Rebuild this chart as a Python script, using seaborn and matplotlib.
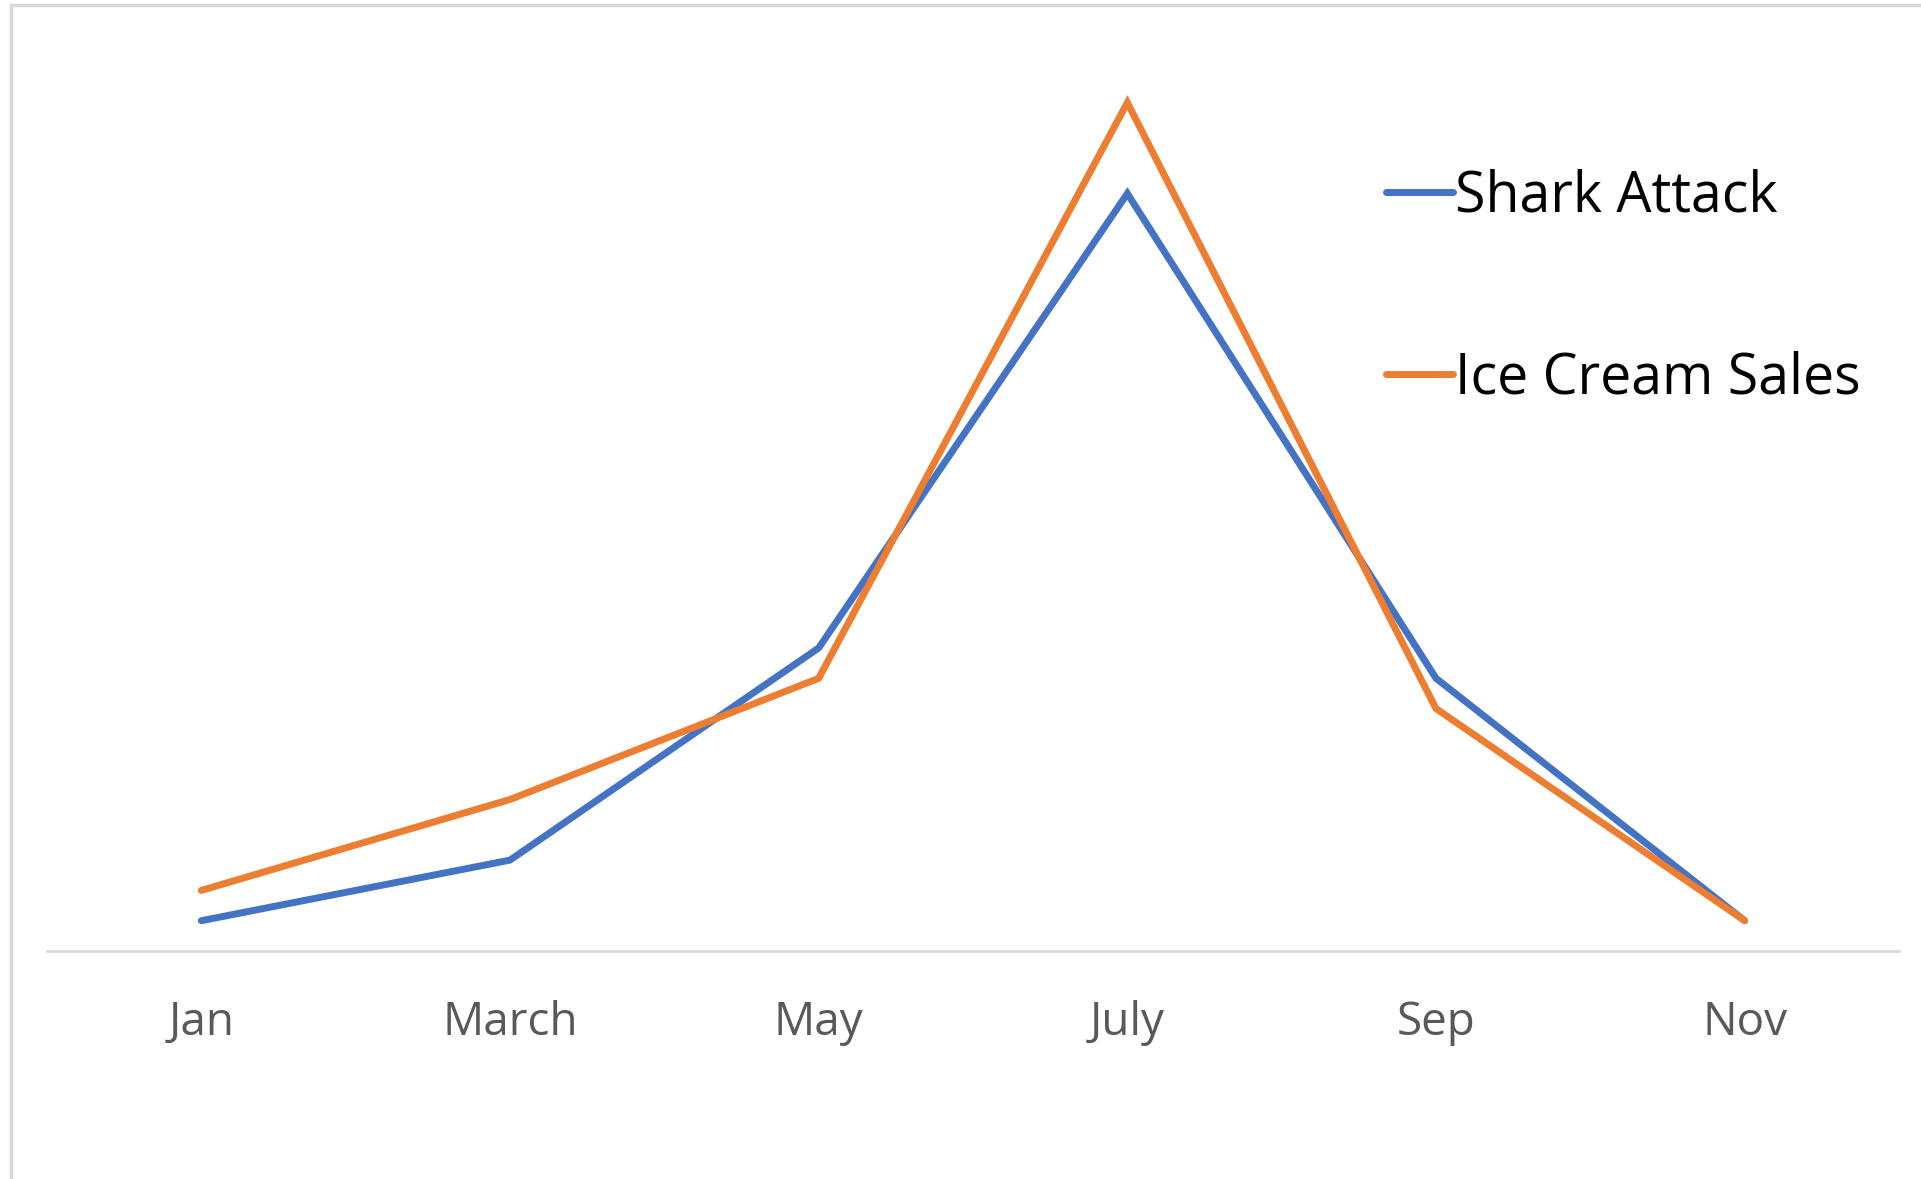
import pandas as pd
import matplotlib
matplotlib.use("Agg")
import matplotlib.pyplot as plt
import seaborn as sns
from matplotlib.patches import Rectangle

# chart data
months = ["Jan", "March", "May", "July", "Sep", "Nov"]
shark_attack = [1, 3, 10, 25, 9, 1]
ice_cream_sales = [2, 5, 9, 28, 8, 1]

sns.set_style("white")
plt.rcParams["font.family"] = ["Open Sans", "DejaVu Sans"]

df = pd.DataFrame({
    "month": months * 2,
    "pos": list(range(len(months))) * 2,
    "value": shark_attack + ice_cream_sales,
    "series": ["Shark Attack"] * len(months) + ["Ice Cream Sales"] * len(months),
})

W, H = 1921, 1179
fig = plt.figure(figsize=(W / 100, H / 100), dpi=100)
ax = fig.add_axes([47 / W, (H - 951) / H, (1899 - 47) / W, (951 - 42) / H])

sns.lineplot(data=df, x="pos", y="value", hue="series", sort=False,
             palette={"Shark Attack": "#4472C4", "Ice Cream Sales": "#ED7D31"},
             ax=ax)
for line in ax.lines:
    line.set_linewidth(5)
    line.set_solid_capstyle("round")
    line.set_solid_joinstyle("miter")

ax.set_xlim(-0.5, 5.5)
ax.set_ylim(0, 30)
ax.set_xticks(range(len(months)))
ax.set_xticklabels(months, fontsize=33, color="#595959")
ax.set_yticks([])
ax.set_xlabel("")
ax.set_ylabel("")
ax.tick_params(axis="x", length=0, pad=35)
for s in ["top", "left", "right"]:
    ax.spines[s].set_visible(False)
ax.spines["bottom"].set_color("#d9d9d9")
ax.spines["bottom"].set_linewidth(2)

leg = ax.legend(loc="upper left", bbox_to_anchor=(1386 / W, (H - 168) / H),
                bbox_transform=fig.transFigure, frameon=False, fontsize=40,
                handlelength=1.2, handletextpad=0.05, labelspacing=2.26,
                borderpad=0, borderaxespad=0, title=None)
for h in leg.get_lines():
    h.set_linewidth(5)
    h.set_solid_capstyle("round")
for t in leg.get_texts():
    t.set_color("black")

# light grey frame around the chart area
fig.patches.append(Rectangle((11 / W, -0.1), 1.2, (H - 5) / H + 0.1,
                             transform=fig.transFigure, fill=False,
                             edgecolor="#d9d9d9", linewidth=2.5))

fig.savefig("out.png", dpi=100)
